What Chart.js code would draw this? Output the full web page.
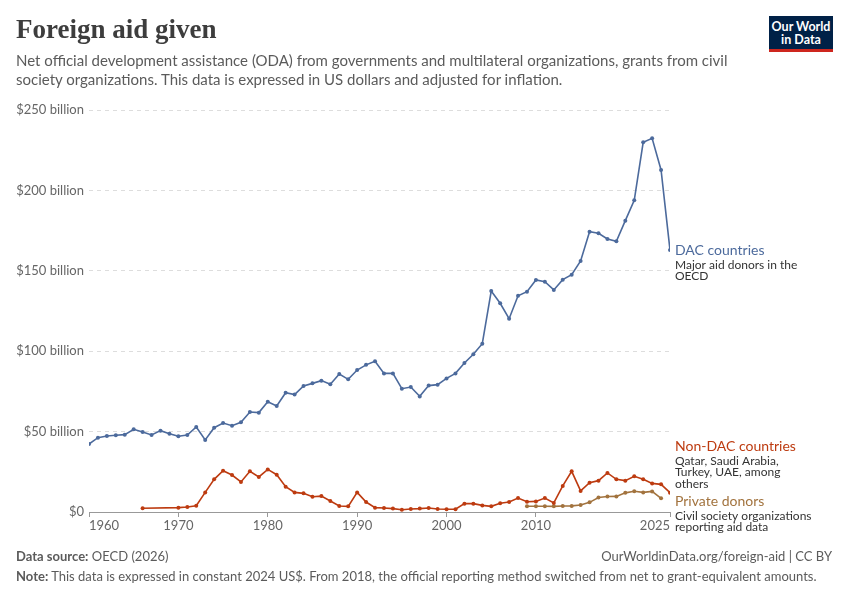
<!DOCTYPE html>
<html lang="en">
<head>
  <meta charset="UTF-8">
  <title>Foreign aid given</title>
  <script src="https://cdn.jsdelivr.net/npm/chart.js"></script>
  <style>
    body {
      margin: 0;
      width: 850px;
      height: 600px;
      background: #fff;
      font-family: Lato, Arial, sans-serif;
      position: relative;
      overflow: hidden;
    }
    h1 {
      position: absolute;
      left: 16px;
      top: 14px;
      margin: 0;
      font-family: "Liberation Serif", serif;
      font-weight: bold;
      font-size: 27px;
      color: #3d3d3d;
    }
    .subtitle {
      position: absolute;
      left: 16px;
      top: 51px;
      width: 740px;
      font-size: 15px;
      line-height: 19px;
      color: #5b5b5b;
    }
    .logo {
      position: absolute;
      left: 769px;
      top: 16px;
      width: 64px;
      height: 33px;
      background: #002147;
      border-bottom: 3px solid #ce261e;
      color: #fff;
      font-weight: bold;
      font-size: 12.5px;
      line-height: 13px;
      text-align: center;
      padding-top: 4px;
      box-sizing: content-box;
      height: 29px;
    }
    #wrap {
      position: absolute;
      left: 0;
      top: 0;
      width: 850px;
      height: 600px;
    }
    .foot {
      position: absolute;
      font-size: 13px;
      color: #5b5b5b;
    }
    .foot b { color: #5b5b5b; }
  </style>
</head>
<body>
<div id="wrap"><canvas id="aidChart"></canvas></div>
<h1>Foreign aid given</h1>
<div class="subtitle">Net official development assistance (ODA) from governments and multilateral organizations, grants from civil society organizations. This data is expressed in US dollars and adjusted for inflation.</div>
<div class="logo">Our World<br>in Data</div>
<div class="foot" style="left:16px; top:548px;"><b>Data source:</b> OECD (2026)</div>
<div class="foot" style="right:18px; top:548px;">OurWorldinData.org/foreign-aid | CC BY</div>
<div class="foot" style="left:16px; top:568px;"><b>Note:</b> This data is expressed in constant 2024 US$. From 2018, the official reporting method switched from net to grant-equivalent amounts.</div>

<script>
  // years 1960 - 2025, values in billion US$ (constant 2024)
  const years = [];
  for (let y = 1960; y <= 2025; y++) years.push(y);

  const dacCountries = [
    42.3, 46.2, 47.3, 47.7, 48.1, 51.4, 49.8, 47.9, 50.6, 48.7,
    47.1, 47.9, 52.9, 44.8, 52.4, 55.3, 53.7, 55.8, 62.2, 61.8,
    68.6, 65.9, 74.2, 73.0, 78.4, 80.0, 81.7, 79.4, 85.8, 82.5,
    88.3, 91.5, 93.7, 86.2, 86.2, 76.7, 77.7, 71.9, 78.6, 79.2,
    83.1, 86.2, 92.7, 98.1, 104.7, 137.4, 129.8, 120.2, 134.5, 137.0,
    144.3, 143.2, 138.1, 144.5, 147.6, 156.1, 174.3, 173.3, 169.8, 168.3,
    181.2, 193.8, 229.9, 232.4, 212.7, 162.9
  ];

  const nonDacCountries = [
    null, null, null, null, null, null, 2.3, null, null, null,
    2.7, 3.1, 3.9, 12.2, 20.3, 25.7, 23.0, 18.7, 25.3, 21.8,
    26.5, 23.2, 15.7, 12.2, 11.6, 9.5, 9.9, 6.8, 3.7, 3.5,
    12.2, 6.2, 2.7, 2.5, 2.1, 1.4, 1.9, 2.1, 2.5, 1.9,
    1.7, 1.7, 5.2, 5.2, 4.1, 3.5, 5.4, 6.2, 8.7, 6.4,
    6.6, 8.7, 5.6, 16.2, 25.3, 13.1, 18.2, 19.5, 24.3, 20.3,
    19.5, 22.2, 20.3, 17.8, 17.2, 12.0
  ];

  const privateDonors = [
    null, null, null, null, null, null, null, null, null, null,
    null, null, null, null, null, null, null, null, null, null,
    null, null, null, null, null, null, null, null, null, null,
    null, null, null, null, null, null, null, null, null, null,
    null, null, null, null, null, null, null, null, null, 3.6,
    3.6, 3.6, 3.5, 3.7, 3.8, 4.3, 6.0, 9.0, 9.6, 9.7,
    11.9, 12.9, 12.2, 12.8, 8.5, null
  ];

  const xTicks = [1960, 1970, 1980, 1990, 2000, 2010, 2025];
  const yTicks = [0, 50, 100, 150, 200, 250];

  const colors = {
    dac: '#4c6a9c',
    nonDac: '#bd3b10',
    priv: '#a2733e'
  };

  const seriesLabels = [
    { name: 'DAC countries', color: colors.dac, sub: ['Major aid donors in the', 'OECD'], y: null },
    { name: 'Non-DAC countries', color: colors.nonDac, sub: ['Qatar, Saudi Arabia,', 'Turkey, UAE, among', 'others'], y: 446 },
    { name: 'Private donors', color: colors.priv, sub: ['Civil society organizations', 'reporting aid data'], y: 501 }
  ];

  function toPoints(arr) {
    return years.map((yr, i) => ({ x: yr, y: arr[i] }));
  }

  function makeSet(label, arr, color) {
    return {
      label: label,
      data: toPoints(arr),
      borderColor: color,
      backgroundColor: color,
      borderWidth: 1.6,
      pointRadius: 2,
      pointHoverRadius: 3,
      pointBorderWidth: 0,
      spanGaps: true,
      tension: 0
    };
  }

  // x tick labels (first left aligned, last right aligned) + right side labels
  const owidLabels = {
    id: 'owidLabels',
    afterDraw(chart) {
      const ctx = chart.ctx;
      const xs = chart.scales.x;
      const ys = chart.scales.y;
      const area = chart.chartArea;
      ctx.save();
      ctx.font = '13px Lato';
      ctx.fillStyle = '#666';
      ctx.textBaseline = 'top';
      xTicks.forEach((t, i) => {
        const px = xs.getPixelForValue(t);
        ctx.textAlign = i === 0 ? 'left' : (i === xTicks.length - 1 ? 'right' : 'center');
        ctx.fillText(String(t), px, area.bottom + 7);
      });

      const lx = area.right + 5;
      seriesLabels.forEach((s, i) => {
        let y = s.y;
        if (y === null) y = ys.getPixelForValue(dacCountries[dacCountries.length - 1]);
        ctx.textAlign = 'left';
        ctx.textBaseline = 'middle';
        ctx.font = '14px Lato';
        ctx.fillStyle = s.color;
        ctx.fillText(s.name, lx, y);
        ctx.font = '12px Lato';
        ctx.fillStyle = '#333';
        s.sub.forEach((line, j) => {
          ctx.fillText(line, lx, y + 15 + j * 11.5);
        });
      });
      ctx.restore();
    }
  };

  const ctx = document.getElementById('aidChart').getContext('2d');
  new Chart(ctx, {
    type: 'line',
    data: {
      datasets: [
        makeSet('DAC countries', dacCountries, colors.dac),
        makeSet('Non-DAC countries', nonDacCountries, colors.nonDac),
        makeSet('Private donors', privateDonors, colors.priv)
      ]
    },
    options: {
      responsive: true,
      maintainAspectRatio: false,
      animation: false,
      layout: {
        padding: { left: 0, top: 110, right: 180, bottom: 58 }
      },
      plugins: {
        legend: { display: false },
        tooltip: { enabled: false }
      },
      scales: {
        x: {
          type: 'linear',
          min: 1960,
          max: 2025,
          afterBuildTicks: scale => {
            scale.ticks = xTicks.map(v => ({ value: v }));
          },
          afterFit: scale => { scale.height = 30; },
          grid: {
            drawOnChartArea: false,
            drawTicks: true,
            tickLength: 5,
            color: '#999'
          },
          border: { color: '#999', width: 1 },
          ticks: { display: false }
        },
        y: {
          min: 0,
          max: 250,
          afterBuildTicks: scale => {
            scale.ticks = yTicks.map(v => ({ value: v }));
          },
          afterFit: scale => { scale.width = 89; },
          grid: {
            drawTicks: false,
            color: '#dddddd',
            lineWidth: 1
          },
          border: { display: false, dash: [4, 4] },
          ticks: {
            padding: 5,
            color: '#666',
            font: { family: 'Lato', size: 13 },
            callback: v => v === 0 ? '$0' : '$' + v + ' billion'
          }
        }
      }
    },
    plugins: [owidLabels]
  });
</script>
</body>
</html>
